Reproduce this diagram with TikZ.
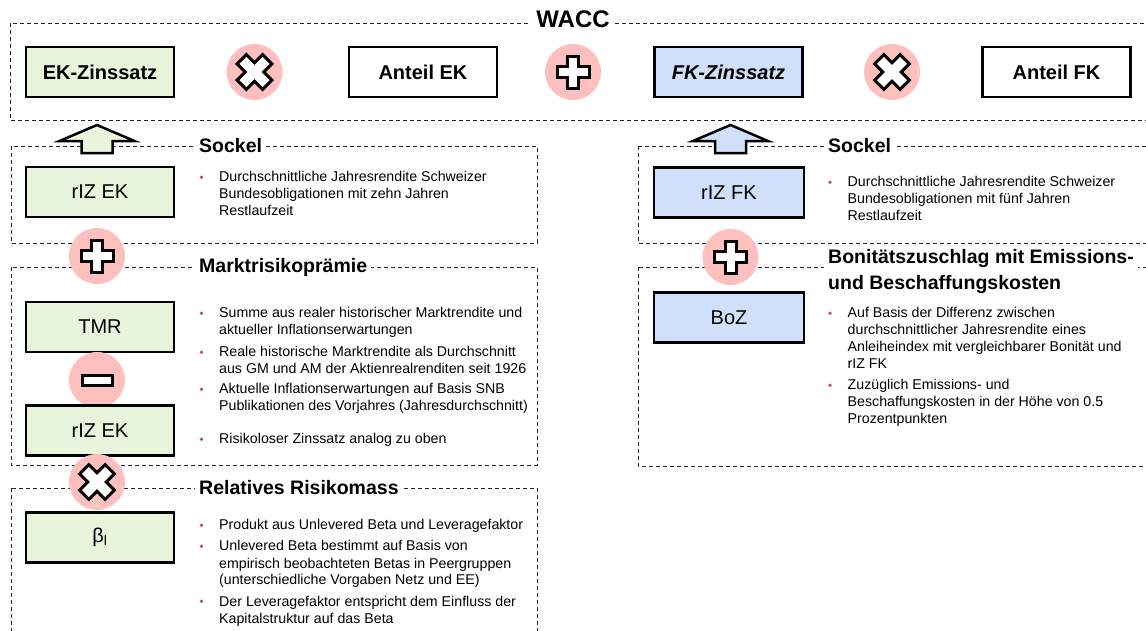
\documentclass[tikz,border=0pt]{standalone}
\usepackage{fontspec}
\setmainfont{Liberation Sans}
\usetikzlibrary{calc}

\tikzset{
  frame/.style={draw=black!85,line width=0.8pt,dash pattern=on 4pt off 3pt},
  title/.style={fill=white,anchor=west,inner sep=4pt,
    font=\fontsize{19.5}{26}\selectfont\bfseries},
  keybox/.style={draw,line width=2.6pt,minimum width=148pt,minimum height=50pt,
    inner sep=0pt,font=\fontsize{20}{24}\selectfont},
  opcircle/.style={circle,fill=opcolor,minimum size=56pt,inner sep=0pt},
  dotmark/.style={circle,fill=dotcolor,minimum size=3.8pt,inner sep=0pt,anchor=center},
  item/.style={anchor=north west,align=left,inner sep=0pt,
    font=\fontsize{14.2}{17}\selectfont,
    label={[dotmark,xshift=-17.5pt,yshift=-5.8pt]north west:{}}},
  pics/plusmark/.style={code={
    \draw[line width=3pt,fill=white] (-5.5,-16)--(5.5,-16)--(5.5,-5.5)--(16,-5.5)
      --(16,5.5)--(5.5,5.5)--(5.5,16)--(-5.5,16)--(-5.5,5.5)--(-16,5.5)
      --(-16,-5.5)--(-5.5,-5.5)--cycle;}},
  pics/timesmark/.style={code={
    \draw[line width=3pt,fill=white,rotate=45] (-6.5,-18)--(6.5,-18)--(6.5,-6.5)--(18,-6.5)
      --(18,6.5)--(6.5,6.5)--(6.5,18)--(-6.5,18)--(-6.5,6.5)--(-18,6.5)
      --(-18,-6.5)--(-6.5,-6.5)--cycle;}},
  pics/minusmark/.style={code={
    \draw[line width=3pt,fill=white] (-15,-5) rectangle (15,5);}}
}

\begin{document}
\begin{tikzpicture}[x=1pt,y=-1pt]
\definecolor{opcolor}{RGB}{255,191,191}
\definecolor{dotcolor}{RGB}{192,80,77}
\definecolor{ekcolor}{RGB}{232,244,220}
\definecolor{fkcolor}{RGB}{208,223,250}

\useasboundingbox (0,0) rectangle (1146,630);

% Dashed frames (right and bottom edges run off the page).
\draw[frame] (10,23) rectangle (1152,120);
\draw[frame] (11,146) rectangle (537,243);
\draw[frame] (11,267) rectangle (537,465);
\draw[frame] (11,488) rectangle (537,640);
\draw[frame] (638,146) rectangle (1152,243);
\draw[frame] (638,267) rectangle (1152,466);

% Block arrows up into the WACC line.
\draw[line width=2.5pt,fill=ekcolor] (97,125)--(134.5,141)--(112.5,141)--(112.5,153)
  --(81.5,153)--(81.5,141)--(59.5,141)--cycle;
\draw[line width=2.5pt,fill=fkcolor] (730.5,125)--(768,141)--(746,141)--(746,153)
  --(715,153)--(715,141)--(693,141)--cycle;

% Frame titles.
\node[fill=white,inner sep=5pt,font=\fontsize{24}{28}\selectfont\bfseries] (wacc) at (573,19) {WACC};
\node[title] (sockelEK) at (195,146) {Sockel};
\node[title] (mrp) at (195,267) {Marktrisikoprämie};
\node[title] (beta) at (195,488) {Relatives Risikomass};
\node[title] (sockelFK) at (824,146) {Sockel};
\node[title,align=left] (boz) at (824,271) {Bonitätszuschlag mit Emissions-\\und Beschaffungskosten};

% WACC formula row.
\node[keybox,fill=ekcolor,font=\fontsize{20}{24}\selectfont\bfseries] (ekz) at (100,72) {EK-Zinssatz};
\node[opcircle] (op1) at (254.5,72) {};
\pic at (op1) {timesmark};
\node[keybox,font=\fontsize{20}{24}\selectfont\bfseries] (anteilEK) at (423,72) {Anteil EK};
\node[opcircle] (op2) at (573,72) {};
\pic at (op2) {plusmark};
\node[keybox,fill=fkcolor,font=\fontsize{20}{24}\selectfont\bfseries\itshape] (fkz) at (728.5,72) {FK-Zinssatz};
\node[opcircle] (op3) at (892,72) {};
\pic at (op3) {timesmark};
\node[keybox,font=\fontsize{20}{24}\selectfont\bfseries] (anteilFK) at (1056.5,72) {Anteil FK};

% Left column: cost of equity.
\node[keybox,fill=ekcolor] (rizEK) at (100,192) {rIZ EK};
\node[opcircle] (op4) at (97,256) {};
\pic at (op4) {plusmark};
\node[keybox,fill=ekcolor] (tmr) at (100,327) {TMR};
\node[opcircle] (op5) at (97,380) {};
\pic at (op5) {minusmark};
\node[keybox,fill=ekcolor] (rizEKb) at (100,430.5) {rIZ EK};
\node[opcircle] (op6) at (97,482) {};
\pic at (op6) {timesmark};
\node[keybox,fill=ekcolor] (betaL) at (100,537.5) {β\textsubscript{l}};

\node[item] (t1) at (219,171.5) {Durchschnittliche Jahresrendite Schweizer\\Bundesobligationen mit zehn Jahren\\Restlaufzeit};
\node[item] (t2) at (219,307.5) {Summe aus realer historischer Marktrendite und\\aktueller Inflationserwartungen};
\node[item] (t3) at (219,346.5) {Reale historische Marktrendite als Durchschnitt\\aus GM und AM der Aktienrealrenditen seit 1926};
\node[item] (t4) at (219,383.5) {Aktuelle Inflationserwartungen auf Basis SNB\\Publikationen des Vorjahres (Jahresdurchschnitt)};
\node[item] (t5) at (219,433.5) {Risikoloser Zinssatz analog zu oben};
\node[item] (t6) at (219,519.5) {Produkt aus Unlevered Beta und Leveragefaktor};
\node[item] (t7) at (219,540.5) {Unlevered Beta bestimmt auf Basis von\\empirisch beobachteten Betas in Peergruppen\\(unterschiedliche Vorgaben Netz und EE)};
\node[item] (t8) at (219,595.5) {Der Leveragefaktor entspricht dem Einfluss der\\Kapitalstruktur auf das Beta};

% Right column: cost of debt.
\node[keybox,fill=fkcolor,minimum width=150pt] (rizFK) at (729,192.5) {rIZ FK};
\node[opcircle] (op7) at (730.5,257) {};
\pic at (op7) {plusmark};
\node[keybox,fill=fkcolor,minimum width=150pt] (bozBox) at (729,317.5) {BoZ};

\node[item] (t9) at (847.5,176.5) {Durchschnittliche Jahresrendite Schweizer\\Bundesobligationen mit fünf Jahren\\Restlaufzeit};
\node[item] (t10) at (847.5,307.5) {Auf Basis der Differenz zwischen\\durchschnittlicher Jahresrendite eines\\Anleiheindex mit vergleichbarer Bonität und\\rIZ FK};
\node[item] (t11) at (847.5,379.5) {Zuzüglich Emissions- und\\Beschaffungskosten in der Höhe von 0.5\\Prozentpunkten};
\end{tikzpicture}
\end{document}
